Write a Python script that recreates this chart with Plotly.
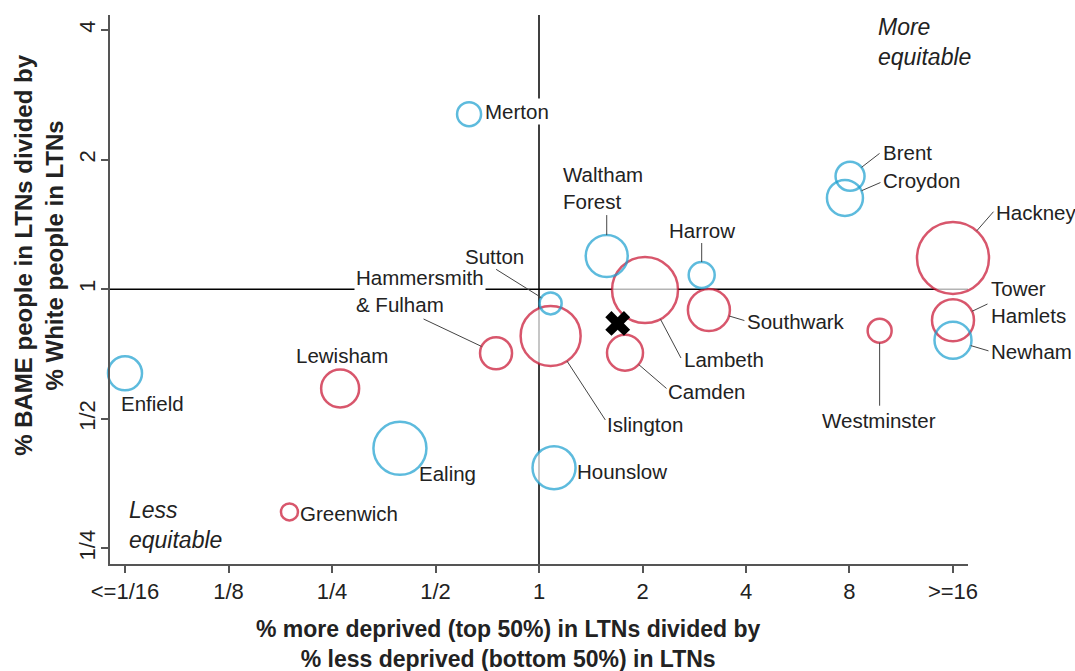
import numpy as np
import plotly.graph_objects as go

# ---------------- data ----------------
boroughs = ["Enfield", "Lewisham", "Greenwich", "Merton", "Waltham Forest", "Lambeth",
            "Harrow", "Sutton", "Islington", "Hammersmith & Fulham", "Camden", "Ealing",
            "Hounslow", "Southwark", "Brent", "Croydon", "Hackney", "Tower Hamlets",
            "Newham", "Westminster"]
deprived_ratio = [0.0625, 0.264, 0.188, 0.626, 1.574, 2.034, 2.973, 1.081, 1.081, 0.750,
                  1.779, 0.394, 1.106, 3.12, 8.03, 7.76, 16, 16, 16, 9.79]
bame_ratio = [0.638, 0.588, 0.304, 2.55, 1.194, 0.996, 1.079, 0.927, 0.779, 0.710,
              0.712, 0.427, 0.385, 0.895, 1.83, 1.63, 1.182, 0.847, 0.761, 0.801]
ltn_size = [34, 38, 17, 24, 42, 66, 26, 22, 60, 32, 36, 53, 43, 42, 29, 36, 72, 42, 37, 24]
area = ["Outer", "Inner", "Inner", "Outer", "Outer", "Inner", "Outer", "Outer", "Inner", "Inner",
        "Inner", "Outer", "Outer", "Inner", "Outer", "Outer", "Inner", "Inner", "Outer", "Inner"]
london_deprived_ratio = [1.694]
london_bame_ratio = [0.833]

x_tickvals = [1/16, 1/8, 1/4, 1/2, 1, 2, 4, 8, 16]
x_ticktext = ["<=1/16", "1/8", "1/4", "1/2", "1", "2", "4", "8", ">=16"]
y_tickvals = [1/4, 1/2, 1, 2, 4]
y_ticktext = ["1/4", "1/2", "1", "2", "4"]

# ---------------- styling / label layout ----------------
RED = "#c8102e"
BLUE = "#1a9fd0"
TXT = "#222222"
FONT = "Liberation Sans, Arial, sans-serif"
LBL_SIZE = 20.5

# label: (text, xanchor, dx, dy [screen px, down positive], white background)
labels = {
    "Enfield": ("Enfield", "center", 27, 30, False),
    "Lewisham": ("Lewisham", "center", 2, -33, False),
    "Greenwich": ("Greenwich", "left", 9, 2, False),
    "Merton": ("Merton", "left", 14, -3, True),
    "Waltham Forest": ("Waltham<br>Forest", "left", -46, -68, False),
    "Lambeth": ("Lambeth", "left", 37, 70, False),
    "Harrow": ("Harrow", "center", 0, -45, False),
    "Sutton": ("Sutton", "center", -56, -47, False),
    "Islington": ("Islington", "left", 54, 89, False),
    "Hammersmith & Fulham": ("Hammersmith<br>& Fulham", "left", -142, -62, True),
    "Camden": ("Camden", "left", 41, 39, False),
    "Ealing": ("Ealing", "center", 48, 25, False),
    "Hounslow": ("Hounslow", "left", 21, 4, False),
    "Southwark": ("Southwark", "left", 36, 12, False),
    "Brent": ("Brent", "left", 31, -24, False),
    "Croydon": ("Croydon", "left", 36, -17, False),
    "Hackney": ("Hackney", "left", 41, -45, False),
    "Tower Hamlets": ("Tower<br>Hamlets", "left", 36, -18, False),
    "Newham": ("Newham", "left", 36, 11, False),
    "Westminster": ("Westminster", "center", -1, 90, False),
}
# leader line tails (screen px offset from point centre)
leaders = {
    "Waltham Forest": (0, -43), "Sutton": (-56, -35), "Hammersmith & Fulham": (-74, -35),
    "Islington": (56, 86), "Camden": (43, 37), "Lambeth": (37, 70), "Southwark": (37, 11),
    "Harrow": (0, -34), "Brent": (31, -24), "Croydon": (37, -16), "Hackney": (42, -48),
    "Tower Hamlets": (36, -17), "Newham": (37, 11), "Westminster": (0, 77),
}

LOG2 = np.log10(2)
x_range = [-4.145 * LOG2, 4.145 * LOG2]
y_range = [-2.120 * LOG2, 2.116 * LOG2]

fig = go.Figure()

# white fills (hide the reference lines under bubbles)
fig.add_trace(go.Scatter(
    x=deprived_ratio, y=bame_ratio, mode="markers", cliponaxis=False, hoverinfo="skip",
    marker=dict(size=ltn_size, sizemode="diameter", color="white", line=dict(width=0)),
    showlegend=False))

for grp, col in [("Inner", RED), ("Outer", BLUE)]:
    idx = [i for i, a in enumerate(area) if a == grp]
    fig.add_trace(go.Scatter(
        x=[deprived_ratio[i] for i in idx], y=[bame_ratio[i] for i in idx],
        text=[boroughs[i] for i in idx], mode="markers", cliponaxis=False, name=grp,
        marker=dict(size=[ltn_size[i] for i in idx], sizemode="diameter",
                    color="rgba(0,0,0,0)", line=dict(color=col, width=2.5)),
        showlegend=False))

fig.add_trace(go.Scatter(
    x=london_deprived_ratio, y=london_bame_ratio, mode="markers", name="London",
    marker=dict(symbol="x", size=22, color="black", line=dict(width=0)),
    showlegend=False))

annotations = []
for i, b in enumerate(boroughs):
    lx = np.log10(deprived_ratio[i])
    ly = np.log10(bame_ratio[i])
    if b in leaders:
        ax, ay = leaders[b]
        annotations.append(dict(
            x=lx, y=ly, xref="x", yref="y", text=" ", font=dict(size=1),
            showarrow=True, arrowhead=0, arrowwidth=1, arrowcolor="#444",
            ax=ax, ay=ay, standoff=ltn_size[i] / 2))
    text, xanchor, dx, dy, bg = labels[b]
    annotations.append(dict(
        x=lx, y=ly, xref="x", yref="y", text=text, showarrow=False,
        xanchor=xanchor, yanchor="middle", xshift=dx, yshift=-dy, align="left",
        font=dict(family=FONT, size=LBL_SIZE, color=TXT),
        bgcolor="white" if bg else None, borderpad=1))

annotations += [
    dict(x=0.8925, y=0.950, xref="paper", yref="paper", text="<i>More<br>equitable</i>",
         showarrow=False, xanchor="left", yanchor="middle", align="left",
         font=dict(family=FONT, size=23, color=TXT)),
    dict(x=0.020, y=0.071, xref="paper", yref="paper", text="<i>Less<br>equitable</i>",
         showarrow=False, xanchor="left", yanchor="middle", align="left",
         font=dict(family=FONT, size=23, color=TXT)),
    dict(x=0.4639, y=-0.145, xref="paper", yref="paper",
         text="<b>% more deprived (top 50%) in LTNs divided by<br>% less deprived (bottom 50%) in LTNs</b>",
         showarrow=False, xanchor="center", yanchor="middle", align="center",
         font=dict(family=FONT, size=23, color=TXT)),
    dict(x=-0.0828, y=0.563, xref="paper", yref="paper", textangle=-90,
         text="<b>% BAME people in LTNs divided by<br>% White people in LTNs</b>",
         showarrow=False, xanchor="center", yanchor="middle", align="center",
         font=dict(family=FONT, size=24, color=TXT)),
]

# reference lines at ratio = 1
x_one = (0 - x_range[0]) / (x_range[1] - x_range[0])
y_one = (0 - y_range[0]) / (y_range[1] - y_range[0])
shapes = [
    dict(type="line", xref="paper", yref="paper", x0=x_one, x1=x_one, y0=0, y1=1,
         line=dict(color="black", width=1.5), layer="below"),
    dict(type="line", xref="paper", yref="paper", x0=0, x1=1, y0=y_one, y1=y_one,
         line=dict(color="black", width=1.5), layer="below"),
]

axis_common = dict(type="log", showgrid=False, zeroline=False, showline=True,
                   linecolor="#555", linewidth=1.5, ticks="outside", ticklen=7,
                   tickcolor="#555", tickwidth=1.5,
                   tickfont=dict(family=FONT, size=22, color="#222"))

fig.update_layout(
    width=1075, height=671,
    margin=dict(l=110, r=107, t=15, b=107, autoexpand=False),
    paper_bgcolor="white", plot_bgcolor="white",
    xaxis=dict(range=x_range, tickvals=x_tickvals, ticktext=x_ticktext, automargin=False,
               **axis_common),
    yaxis=dict(range=y_range, tickvals=y_tickvals, ticktext=y_ticktext, tickangle=-90,
               ticklabelstandoff=-3, automargin=False, **axis_common),
    annotations=annotations, shapes=shapes, showlegend=False,
    font=dict(family=FONT),
)

fig.write_html("out.html", config={"displayModeBar": False},
               post_script="document.body.style.margin='0';document.body.style.overflow='hidden';")
